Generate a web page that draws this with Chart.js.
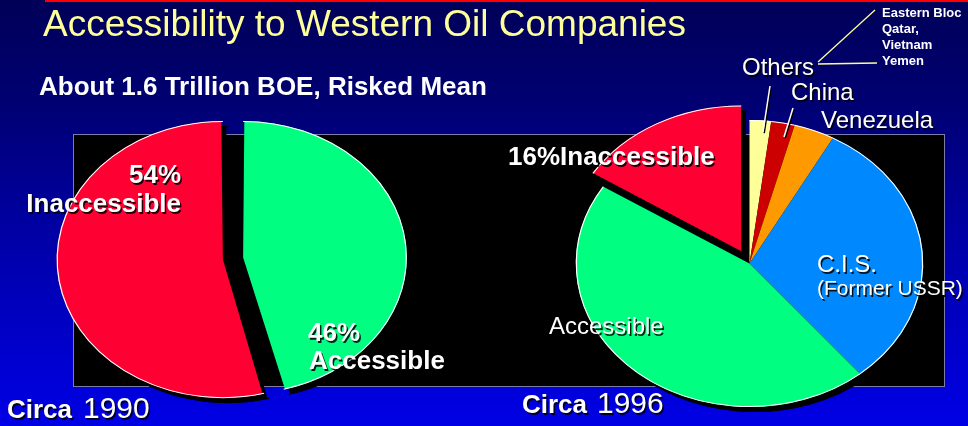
<!DOCTYPE html>
<html>
<head>
<meta charset="utf-8">
<title>Accessibility to Western Oil Companies</title>
<script src="https://cdn.jsdelivr.net/npm/chart.js@4/dist/chart.umd.min.js"></script>
<style>
  html, body { margin: 0; padding: 0; }
  body {
    width: 968px; height: 426px; overflow: hidden; position: relative;
    background: linear-gradient(180deg, #000058 0%, #000074 25%, #0000a6 55%, #0000e6 100%);
    font-family: "Liberation Sans", Arial, sans-serif;
  }
  #topline { position: absolute; left: 45px; top: 0; width: 923px; height: 2px; background: #ff0000; }
  #panel {
    position: absolute; left: 73px; top: 134px; width: 870px; height: 251px;
    background: #000; border: 1px solid #7c7ca4;
  }
  canvas { position: absolute; left: 0; top: 0; }
</style>
</head>
<body>
<div id="topline"></div>
<div id="panel"></div>
<canvas id="pie1990" width="968" height="426" style="width:968px;height:426px"></canvas>
<canvas id="pie1996" width="968" height="426" style="width:968px;height:426px"></canvas>
<script>
// Shares of the risked mean resource base (percent)
const labels1990 = ['Accessible', 'Inaccessible'];
const shares1990 = [46, 54];
const colors1990 = ['#00ff80', '#ff0033'];

const labels1996 = ['Others', 'China', 'Venezuela', 'C.I.S.', 'Accessible', 'Inaccessible'];
const shares1996 = [2, 2.2, 3.8, 31, 45, 16];
const colors1996 = ['#ffff99', '#cc0000', '#ff9900', '#0088ff', '#00ff80', '#ff0033'];

const othersNote = ['Eastern Bloc', 'Qatar,', 'Vietnam', 'Yemen'];

const FONT = '"Liberation Sans", Arial, sans-serif';

function drawText(ctx, text, x, y, font, color, align, shadow) {
  ctx.save();
  ctx.font = font;
  ctx.textAlign = align || 'left';
  ctx.textBaseline = 'alphabetic';
  if (shadow) {
    ctx.fillStyle = 'rgba(0,0,0,0.85)';
    ctx.fillText(text, x + 1.5, y + 1.5);
  }
  ctx.fillStyle = color;
  ctx.fillText(text, x, y);
  ctx.restore();
}

function line(ctx, x1, y1, x2, y2, color, width, shadow) {
  ctx.save();
  ctx.lineWidth = width;
  if (shadow) {
    ctx.strokeStyle = '#000';
    ctx.beginPath(); ctx.moveTo(x1 + 1.2, y1 + 1.2); ctx.lineTo(x2 + 1.2, y2 + 1.2); ctx.stroke();
  }
  ctx.strokeStyle = color;
  ctx.beginPath(); ctx.moveTo(x1, y1); ctx.lineTo(x2, y2); ctx.stroke();
  ctx.restore();
}

// Stretches the pie into an ellipse, outlines the outer rims in white
// and lays a hard black drop shadow behind the whole pie.
const ellipsePie = {
  id: 'ellipsePie',
  beforeDatasetsDraw(chart, args, opts) {
    const ctx = chart.ctx;
    const first = chart.getDatasetMeta(0).data[0];
    ctx.save();
    ctx.translate(first.x, 0);
    ctx.scale(opts.stretch, 1);
    ctx.translate(-first.x, 0);
  },
  afterDatasetsDraw(chart, args, opts) {
    const ctx = chart.ctx;
    chart.getDatasetMeta(0).data.forEach(a => {
      const p = a.getProps(['x', 'y', 'startAngle', 'endAngle', 'outerRadius'], true);
      const off = (a.options.offset || 0) / 4;
      const half = (p.startAngle + p.endAngle) / 2;
      const circ = p.endAngle - p.startAngle;
      const fix = 1 - Math.sin(Math.min(Math.PI, circ));
      ctx.beginPath();
      ctx.arc(p.x + Math.cos(half) * off, p.y + Math.sin(half) * off,
              p.outerRadius + off * fix - 0.4, p.startAngle, p.endAngle);
      ctx.strokeStyle = '#ffffff';
      ctx.lineWidth = 1;
      ctx.stroke();
    });
    ctx.restore();

    // hard shadow: a black copy of the pie, offset, placed behind it
    const c = chart.canvas;
    const tmp = document.createElement('canvas');
    tmp.width = c.width; tmp.height = c.height;
    const t = tmp.getContext('2d');
    t.drawImage(c, 0, 0);
    t.globalCompositeOperation = 'source-in';
    t.fillStyle = '#000';
    t.fillRect(0, 0, tmp.width, tmp.height);
    ctx.save();
    ctx.setTransform(1, 0, 0, 1, 0, 0);
    ctx.globalCompositeOperation = 'destination-over';
    ctx.drawImage(tmp, opts.shadow, opts.shadow);
    ctx.restore();
  },
  afterDraw(chart, args, opts) {
    if (opts.annotate) opts.annotate(chart.ctx);
  }
};

function pieConfig(labels, values, colors, offsets, radius, padding, stretch, annotate) {
  return {
    type: 'pie',
    data: {
      labels: labels,
      datasets: [{
        data: values,
        backgroundColor: colors,
        borderWidth: 0,
        offset: offsets,
        clip: false
      }]
    },
    options: {
      responsive: false,
      animation: false,
      events: [],
      rotation: 0,
      radius: radius,
      layout: { padding: padding },
      plugins: {
        legend: { display: false },
        tooltip: { enabled: false },
        title: { display: false },
        ellipsePie: { stretch: stretch, shadow: 5, annotate: annotate }
      }
    },
    plugins: [ellipsePie]
  };
}

new Chart(document.getElementById('pie1990'), pieConfig(
  labels1990, shares1990, colors1990, [34, 34], 130,
  { left: 0, right: 502, top: 91, bottom: 0 }, 1.2,
  ctx => {
    drawText(ctx, 'Accessibility to Western Oil Companies', 43, 36, '37px ' + FONT, '#ffff99', 'left', false);
    drawText(ctx, 'About 1.6 Trillion BOE, Risked Mean', 39, 95, 'bold 26px ' + FONT, '#ffffff', 'left', false);
    drawText(ctx, shares1990[1] + '%', 181, 183, 'bold 26px ' + FONT, '#ffffff', 'right', true);
    drawText(ctx, labels1990[1], 181, 212, 'bold 26px ' + FONT, '#ffffff', 'right', true);
    drawText(ctx, shares1990[0] + '%', 308, 341, 'bold 26px ' + FONT, '#ffffff', 'left', true);
    drawText(ctx, labels1990[0], 309, 369, 'bold 26px ' + FONT, '#ffffff', 'left', true);
    drawText(ctx, 'Circa', 7, 418, 'bold 26px ' + FONT, '#ffffff', 'left', true);
    drawText(ctx, '1990', 83, 418, '30px ' + FONT, '#ffffff', 'left', true);
  }
));

new Chart(document.getElementById('pie1996'), pieConfig(
  labels1996, shares1996, colors1996, [0, 0, 0, 0, 0, 56], 143.5,
  { left: 531, right: 0, top: 101, bottom: 0 }, 1.21,
  ctx => {
    drawText(ctx, shares1996[5] + '%' + labels1996[5], 508, 165, 'bold 26px ' + FONT, '#ffffff', 'left', true);
    drawText(ctx, labels1996[4], 549, 334, '24px ' + FONT, '#ffffff', 'left', true);
    drawText(ctx, labels1996[3], 817, 272, '24px ' + FONT, '#ffffff', 'left', true);
    drawText(ctx, '(Former USSR)', 817, 295, '21px ' + FONT, '#ffffff', 'left', true);
    drawText(ctx, labels1996[0], 742, 75, '24px ' + FONT, '#ffffff', 'left', true);
    drawText(ctx, labels1996[1], 791, 100, '24px ' + FONT, '#ffffff', 'left', true);
    drawText(ctx, labels1996[2], 821, 128, '24px ' + FONT, '#ffffff', 'left', true);
    line(ctx, 770, 86, 763, 132, '#ffffff', 1.5, true);
    line(ctx, 793, 108, 784, 137, '#ffffff', 1.5, true);
    line(ctx, 818, 62, 875, 10, '#ffff99', 1.3, false);
    line(ctx, 818, 64, 877, 63, '#ffff99', 1.3, false);
    othersNote.forEach((s, i) => {
      drawText(ctx, s, 882, 17 + i * 16, 'bold 13px ' + FONT, '#ffffff', 'left', false);
    });
    drawText(ctx, 'Circa', 522, 413, 'bold 26px ' + FONT, '#ffffff', 'left', true);
    drawText(ctx, '1996', 597, 413, '30px ' + FONT, '#ffffff', 'left', true);
  }
));
</script>
</body>
</html>
